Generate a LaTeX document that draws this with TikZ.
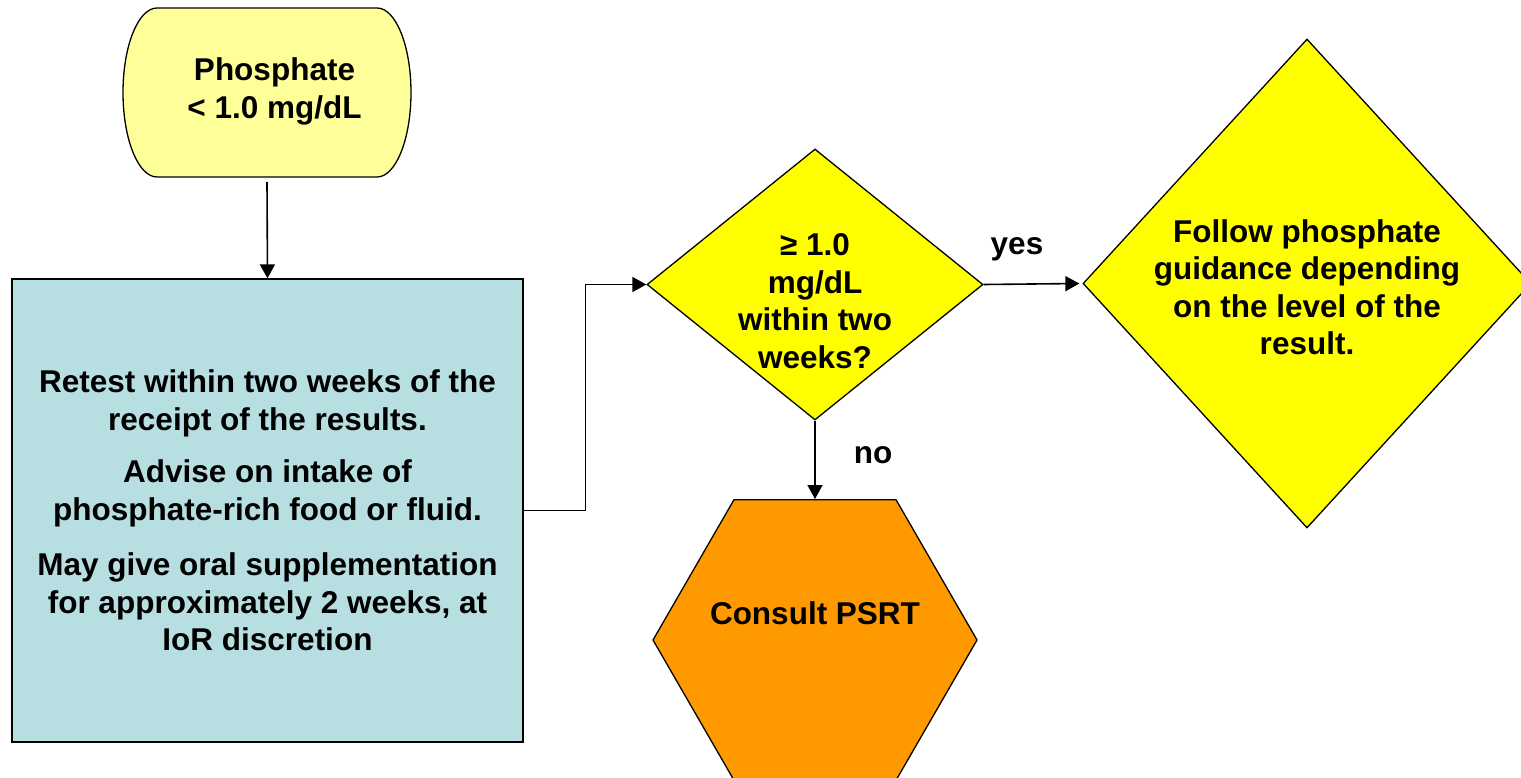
\documentclass[tikz,border=0pt]{standalone}
\usepackage{fontspec}
\setmainfont{Liberation Sans}
\usetikzlibrary{shapes.geometric,arrows.meta}
\definecolor{termfill}{HTML}{FFFF99}
\definecolor{boxfill}{HTML}{B7DEE1}
\definecolor{decfill}{HTML}{FFFF00}
\definecolor{hexfill}{HTML}{FF9900}
\begin{document}
\begin{tikzpicture}[x=1pt,y=-1pt,
  txt/.style={font=\fontsize{31.5}{37.5}\selectfont\bfseries, align=center, inner sep=0pt},
  shapeline/.style={draw=black, line width=1.3pt},
  conn/.style={line width=1.6pt, -{Triangle[length=14pt,width=15pt]}},
]
\useasboundingbox (0,0) rectangle (1521,778);

% terminator
\draw[shapeline, fill=termfill] (157,8) -- (377,8)
  arc[start angle=-90, end angle=90, x radius=34, y radius=84.5] -- (157,177)
  arc[start angle=90, end angle=270, x radius=34, y radius=84.5] -- cycle;
\node[minimum width=288pt, minimum height=169pt, inner sep=0pt, outer sep=0pt] (start) at (267,92.5) {};
\node[txt] (starttxt) at (274.5,91.5) {Phosphate\\< 1.0 mg/dL};

% retest box
\node[shapeline, fill=boxfill, minimum width=511pt, minimum height=463pt, inner sep=0pt, txt] (retest) at (267.5,510.5)
  {Retest within two weeks of the\\receipt of the results.\\[15pt]Advise on intake of\\phosphate-rich food or fluid.\\[18pt]May give oral supplementation\\for approximately 2 weeks, at\\IoR discretion};

% decision
\node[diamond, shapeline, fill=decfill, minimum width=336pt, minimum height=271pt, inner sep=0pt] (dec) at (815,284.5) {};
\node[txt] (dectxt) at (815,301) {≥ 1.0\\mg/dL\\within two\\weeks?};

% follow
\node[diamond, shapeline, fill=decfill, minimum width=448pt, minimum height=489pt, inner sep=0pt] (follow) at (1307,283.5) {};
\node[txt] (followtxt) at (1307,287) {Follow phosphate\\guidance depending\\on the level of the\\result.};

% hexagon
\node[regular polygon, regular polygon sides=6, shapeline, fill=hexfill, minimum size=324pt, inner sep=0pt] (hex) at (815,640) {};
\node[txt] (hextxt) at (815,613) {Consult PSRT};

% connectors
\draw[conn] ([yshift=-5pt]start.south) -- (retest.north);
\draw[conn] (retest.east) -- ++(62,0) |- (dec.west);
\draw[conn] (dec.east) -- ([xshift=-3pt]follow.west);
\draw[conn] (dec.south) -- (hex.north);

\node[txt] (yes) at (1017,249) {yes};
\node[txt] (no) at (873,455) {no};
\end{tikzpicture}
\end{document}
